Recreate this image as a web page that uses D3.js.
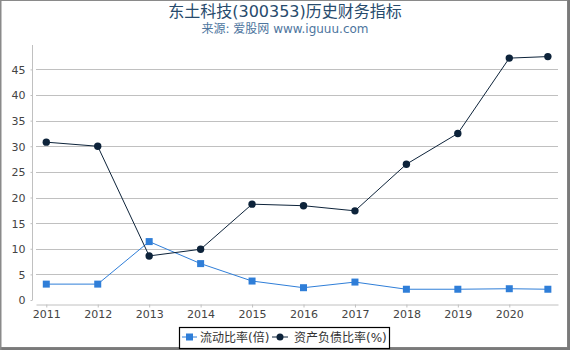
<!DOCTYPE html>
<html>
<head>
<meta charset="utf-8">
<script src="https://cdn.jsdelivr.net/npm/d3@7"></script>
<style>
  html, body { margin: 0; padding: 0; background: #fff; }
  svg { display: block; font-family: "DejaVu Sans", "Noto Sans CJK SC", sans-serif; }
</style>
</head>
<body>
<svg id="chart" width="570" height="350"></svg>
<script>
// ---- data ----
const titleText = "东土科技(300353)历史财务指标";
const subtitleText = "来源: 爱股网 www.iguuu.com";
// reporting periods (year position on the time axis; last one is a partial year)
const periods = [2011, 2012, 2013, 2014, 2015, 2016, 2017, 2018, 2019, 2020, 2020.75];
const currentRatio = [3.1, 3.1, 11.4, 7.1, 3.7, 2.4, 3.5, 2.1, 2.1, 2.2, 2.1];
const debtRatio = [30.8, 30.0, 8.6, 9.9, 18.7, 18.4, 17.4, 26.5, 32.5, 47.2, 47.5];
const xTickValues = [2011, 2012, 2013, 2014, 2015, 2016, 2017, 2018, 2019, 2020];
const xTickLabels = ["2011", "2012", "2013", "2014", "2015", "2016", "2017", "2018", "2019", "2020"];
const yTickValues = [0, 5, 10, 15, 20, 25, 30, 35, 40, 45];
const seriesNames = ["流动比率(倍)", "资产负债比率(%)"];
const seriesColors = ["#2f7ed8", "#0d233a"];

// ---- layout ----
const svg = d3.select("#chart");
const W = 570, H = 350;
const plot = { left: 36, right: 558, top: 45, bottom: 304 };

const x = d3.scaleLinear().domain([2010.8, 2020.947]).range([plot.left, plot.right]);
const y = d3.scaleLinear().domain([-0.78, 49.76]).range([plot.bottom, plot.top]);

// frame
svg.append("rect").attr("x", 0).attr("y", 0).attr("width", W).attr("height", H).attr("fill", "#fff");
svg.append("rect").attr("x", 0.5).attr("y", 0.5).attr("width", 567).attr("height", 347)
  .attr("fill", "none").attr("stroke", "#8a8a8a").attr("stroke-width", 1);
svg.append("rect").attr("x", 567.5).attr("y", 0).attr("width", 2.5).attr("height", H).attr("fill", "#7a7a7a");
svg.append("rect").attr("x", 0).attr("y", 347.5).attr("width", W).attr("height", 2.5).attr("fill", "#7a7a7a");
svg.append("rect").attr("x", 0).attr("y", 0).attr("width", 1.5).attr("height", H).attr("fill", "#8a8a8a");

// titles
svg.append("text").attr("x", 285).attr("y", 17).attr("text-anchor", "middle")
  .attr("fill", "#274b6d").style("font-size", "16px").text(titleText);
svg.append("text").attr("x", 285).attr("y", 33).attr("text-anchor", "middle")
  .attr("fill", "#4d759e").style("font-size", "12px").text(subtitleText);

// grid lines
svg.append("g").selectAll("line").data(yTickValues.filter(v => v > 0)).join("line")
  .attr("x1", plot.left).attr("x2", plot.right)
  .attr("y1", d => Math.round(y(d)) + 0.5).attr("y2", d => Math.round(y(d)) + 0.5)
  .attr("stroke", "#c0c0c0").attr("stroke-width", 1);

// y axis
const yAxis = d3.axisLeft(y).tickValues(yTickValues).tickSize(2).tickPadding(5);
const gy = svg.append("g").attr("transform", `translate(32.5,0)`).call(yAxis);
gy.select(".domain").remove();
gy.append("line").attr("x1", 0).attr("x2", 0).attr("y1", plot.top).attr("y2", y(0))
  .attr("stroke", "#c0c0c0");
gy.selectAll(".tick line").attr("stroke", "#c0c0c0");
gy.selectAll(".tick text").attr("fill", "#444").style("font-size", "11px")
  .style("font-family", "DejaVu Sans").attr("dy", "0.36em");

// x axis
const xAxis = d3.axisBottom(x).tickValues(xTickValues)
  .tickFormat((d, i) => xTickLabels[i]).tickSize(3).tickPadding(3).tickSizeOuter(0);
const gx = svg.append("g").attr("transform", `translate(0,${plot.bottom + 0.5})`).call(xAxis);
gx.select(".domain").attr("stroke", "#c0c0c0");
gx.selectAll(".tick line").attr("stroke", "#c0c0c0");
gx.selectAll(".tick text").attr("fill", "#444").style("font-size", "11px")
  .style("font-family", "DejaVu Sans");

// series
const series = [currentRatio, debtRatio];
const line = d3.line().x((d, i) => x(periods[i])).y(d => y(d));

series.forEach((vals, si) => {
  svg.append("path").datum(vals).attr("d", line)
    .attr("fill", "none").attr("stroke", seriesColors[si]).attr("stroke-width", 1);
});
// markers
svg.append("g").selectAll("rect").data(currentRatio).join("rect")
  .attr("x", (d, i) => x(periods[i]) - 3.5).attr("y", d => y(d) - 3.5)
  .attr("width", 7).attr("height", 7).attr("fill", seriesColors[0]);
svg.append("g").selectAll("circle").data(debtRatio).join("circle")
  .attr("cx", (d, i) => x(periods[i])).attr("cy", d => y(d)).attr("r", 3.7)
  .attr("fill", seriesColors[1]);

// legend
const lg = svg.append("g");
lg.append("rect").attr("x", 179.5).attr("y", 327.5).attr("width", 210).attr("height", 21)
  .attr("fill", "#fff").attr("stroke", "#000").attr("stroke-width", 1.2);
const ly = 337;
// item 1
lg.append("line").attr("x1", 182).attr("x2", 197).attr("y1", ly).attr("y2", ly)
  .attr("stroke", seriesColors[0]).attr("stroke-width", 1);
lg.append("rect").attr("x", 186).attr("y", ly - 3.5).attr("width", 7).attr("height", 7).attr("fill", seriesColors[0]);
lg.append("text").attr("x", 200).attr("y", ly + 4.5).attr("fill", "#333").style("font-size", "12px").text(seriesNames[0]);
// item 2
lg.append("line").attr("x1", 272).attr("x2", 288).attr("y1", ly).attr("y2", ly)
  .attr("stroke", seriesColors[1]).attr("stroke-width", 1);
lg.append("circle").attr("cx", 280).attr("cy", ly).attr("r", 3.5).attr("fill", seriesColors[1]);
lg.append("text").attr("x", 294).attr("y", ly + 4.5).attr("fill", "#333").style("font-size", "12px").text(seriesNames[1]);
</script>
</body>
</html>
